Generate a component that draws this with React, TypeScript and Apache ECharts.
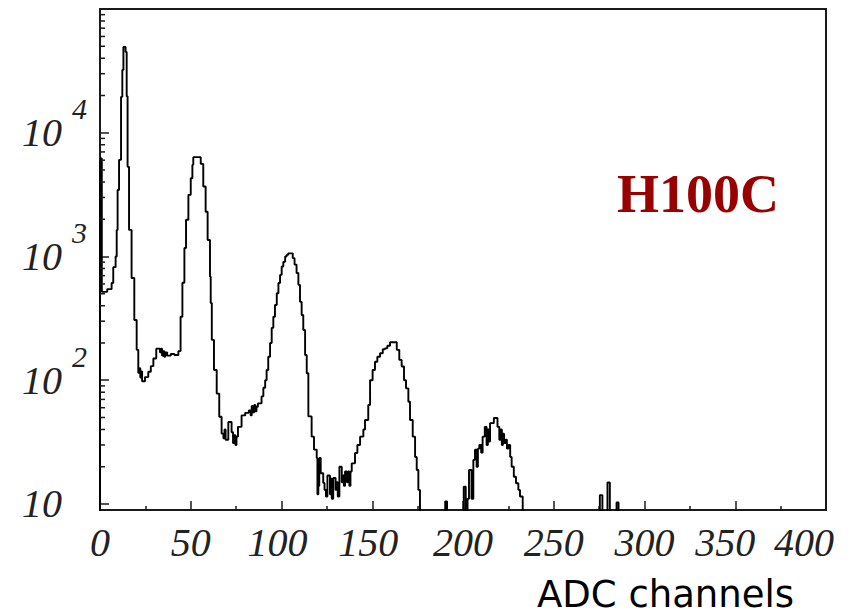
import React, { useEffect, useRef } from "react";
import * as echarts from "echarts";

// Histogram: left edge of each level (ADC channel) and its count (0 = empty)
const binEdges = [
  0, 0, 1, 4, 6.4, 7.3, 8.6, 9.2, 9.7, 10.5, 11.6, 12.3, 12.9, 14.1, 14.7, 15.2, 16, 17.4, 18.9, 20.2,
  21.1, 21.7, 22.2, 22.7, 23.2, 24.8, 26.6, 28, 29.4, 31, 33, 33.6, 34.2, 34.8, 35.4, 36, 37, 39, 41, 43.2,
  44.4, 45.4, 46.5, 47.4, 48.7, 50, 50.9, 51.4, 55.5, 56.9, 58.2, 59.3, 60.6, 61, 61.6, 62.8, 64.3, 65.7, 67, 68,
  68.6, 69.2, 70.7, 72.5, 73.3, 74, 74.6, 75.2, 76, 78, 80, 82, 83, 83.6, 84.2, 85, 85.6, 86.2, 87, 89,
  90, 91, 91.8, 92.7, 93.7, 94.6, 95.5, 96.4, 97.4, 98.3, 99.2, 100.1, 101, 102, 102.8, 103.7, 106.2, 107.2, 108.3, 109.3,
  110.2, 111.1, 112, 113, 113.9, 114.8, 116.6, 117.9, 119.4, 119.8, 120.3, 120.8, 121.6, 123, 123.7, 124.5, 125.3, 126.7, 127.2, 127.7,
  128.5, 129.8, 130.4, 131, 131.9, 133.2, 133.8, 134.4, 135, 136, 136.6, 137.4, 138, 138.7, 140.5, 141.8, 143.3, 145.1, 146, 147.8,
  148.8, 150.2, 151.5, 152.8, 154.3, 155.8, 157, 158.3, 159.8, 163.5, 164.9, 166.2, 167.5, 168.6, 169.9, 170.8, 172.3, 173.6, 174.5, 175.4,
  176.3, 190.2, 191.2, 200.4, 201.5, 202.5, 203.3, 204.7, 205.7, 206.6, 207.5, 208.2, 209, 210, 210.8, 212, 213, 213.7, 214.3, 214.9,
  217, 219, 220, 220.7, 221.4, 222, 222.6, 223.4, 224.2, 225, 226, 226.8, 228, 229.2, 230.5, 231.4, 232.9, 275.4, 276.8, 279.6,
  280.9, 284.6, 285.7, 400,
];
const binCounts = [
  0, 6200, 518, 545, 610, 820, 1000, 1640, 3450, 6040, 19500, 32200, 49400, 45000, 19700, 5300, 1640, 671, 307, 176,
  115, 125, 105, 118, 98, 106, 117, 130, 150, 180, 168, 180, 158, 172, 155, 168, 158, 163, 160, 172,
  326, 614, 1170, 1980, 3150, 4290, 5500, 6350, 5600, 3680, 2300, 1360, 687, 420, 212, 121, 78, 50.7, 37, 34,
  40, 33, 46, 38, 31, 36, 30, 35, 42, 52, 54.5, 57, 52, 62, 55, 63, 56, 61, 65, 74,
  87, 100, 121, 155, 200, 265, 326, 405, 505, 610, 710, 830, 905, 1000, 1030, 1060, 970, 860, 735, 590,
  430, 337, 255, 160, 114, 51, 35, 27.5, 23.5, 12, 14, 23.5, 17.7, 14.8, 13, 11.5, 17, 12, 16, 11,
  16.2, 13, 15, 11.5, 20, 15, 17, 14, 18.3, 15, 18.3, 14, 18.3, 21.3, 25.8, 30, 35, 40, 47.7, 63,
  100, 121, 141, 155, 165, 178, 181, 190, 203, 176, 146, 129, 100, 86, 67, 47.7, 35, 24, 18.8, 13,
  0, 10.5, 0, 13.8, 0, 11, 18.8, 11, 22.7, 27.4, 20, 28, 30, 26, 35, 42, 30, 40, 32, 45,
  49.5, 42, 33, 40, 30, 37, 31, 33, 28, 30, 24, 20, 16.6, 14.7, 13, 11.5, 0, 11.8, 0, 14.9,
  0, 10.3, 0, 0,
];

const xTickValues = [0, 50, 100, 150, 200, 250, 300, 350, 400];
const xLabelNudge = [0, 0, -4, -4, 0, 0, 0, -10, -22];
const yDecadeLabels = [10, 100, 1000, 10000];
const yMinorTicks = [
  20, 30, 40, 50, 60, 70, 80, 90,
  200, 300, 400, 500, 600, 700, 800, 900,
  2000, 3000, 4000, 5000, 6000, 7000, 8000, 9000,
  20000, 30000, 40000, 50000, 60000, 70000, 80000, 90000,
];
const xTitle = "ADC channels";
const tagText = "H100C";

const Y_MIN = 8.94;
const Y_MAX = 100000;
const EMPTY = 1; // drawn below the axis minimum, clipped away

const labelFont = {
  fontFamily: "Liberation Serif",
  fontStyle: "italic",
  fontSize: 40,
  color: "#222",
};

export default function App() {
  const ref = useRef<HTMLDivElement>(null);

  useEffect(() => {
    document.body.style.margin = "0";
    const chart = echarts.init(ref.current!, null, { renderer: "svg" });
    const lineData = binEdges.map((e, i) => [e, binCounts[i] > 0 ? binCounts[i] : EMPTY]);

    const xRich: Record<string, any> = {};
    xTickValues.forEach((v, i) => {
      const n = xLabelNudge[i];
      xRich["x" + v] = {
        ...labelFont,
        padding: n < 0 ? [0, -2 * n, 0, 0] : [0, 0, 0, 2 * n],
      };
    });

    chart.setOption({
      animation: false,
      backgroundColor: "#ffffff",
      grid: {
        left: 100,
        right: 36,
        top: 9,
        bottom: 105,
        show: true,
        borderColor: "#1a1a1a",
        borderWidth: 2,
        backgroundColor: "transparent",
      },
      xAxis: {
        type: "value",
        min: xTickValues[0],
        max: xTickValues[xTickValues.length - 1],
        interval: 50,
        axisLine: { show: true, lineStyle: { color: "#1a1a1a", width: 2 } },
        axisTick: { show: true, inside: true, length: 9, lineStyle: { color: "#1a1a1a", width: 1.5 } },
        minorTick: { show: true, splitNumber: 2, length: 4, lineStyle: { color: "#1a1a1a", width: 1.5 } },
        splitLine: { show: false },
        minorSplitLine: { show: false },
        axisLabel: {
          margin: 12,
          ...labelFont,
          showMinLabel: true,
          showMaxLabel: true,
          formatter: (v: number) => `{x${v}|${v}}`,
          rich: xRich,
        },
      },
      yAxis: {
        type: "log",
        logBase: 10,
        min: Y_MIN,
        max: Y_MAX,
        axisLine: { show: true, lineStyle: { color: "#1a1a1a", width: 2 } },
        axisTick: { show: true, inside: true, length: 9, lineStyle: { color: "#1a1a1a", width: 1.5 } },
        splitLine: { show: false },
        axisLabel: {
          align: "left",
          margin: 78,
          formatter: (v: number) => {
            const lg = Math.log10(v);
            const e = Math.round(lg);
            if (Math.abs(lg - e) > 1e-6) return "";
            if (!yDecadeLabels.includes(Math.pow(10, e))) return "";
            return e === 1 ? "{b|10}" : `{b|10}{s|${e}}`;
          },
          rich: {
            b: {
              ...labelFont,
              lineHeight: 40,
            },
            s: {
              ...labelFont,
              fontSize: 30,
              verticalAlign: "top",
              padding: [0, 0, 48, 10],
            },
          },
        },
      },
      series: [
        {
          type: "line",
          step: "end",
          data: lineData,
          showSymbol: false,
          symbol: "none",
          clip: true,
          lineStyle: { color: "#000", width: 1.9 },
          silent: true,
          z: 3,
        },
        {
          type: "custom",
          data: yMinorTicks.map((v) => [0, v]),
          silent: true,
          clip: false,
          z: 4,
          renderItem: (_params: any, api: any) => {
            const p = api.coord([0, api.value(1)]);
            return {
              type: "line",
              shape: { x1: p[0], y1: p[1], x2: p[0] + 5, y2: p[1] },
              style: { stroke: "#1a1a1a", lineWidth: 1.5 },
            };
          },
        },
      ],
      graphic: [
        {
          type: "text",
          left: 617,
          top: 167,
          style: {
            text: tagText,
            font: 'bold 54px "Liberation Serif"',
            fill: "#990000",
          },
        },
        {
          type: "text",
          left: 537,
          top: 576,
          style: {
            text: xTitle,
            font: '37px "DejaVu Sans"',
            lineHeight: 36,
            fill: "#000",
          },
        },
      ],
    });

    return () => chart.dispose();
  }, []);

  return <div ref={ref} style={{ width: 862, height: 615 }} />;
}
